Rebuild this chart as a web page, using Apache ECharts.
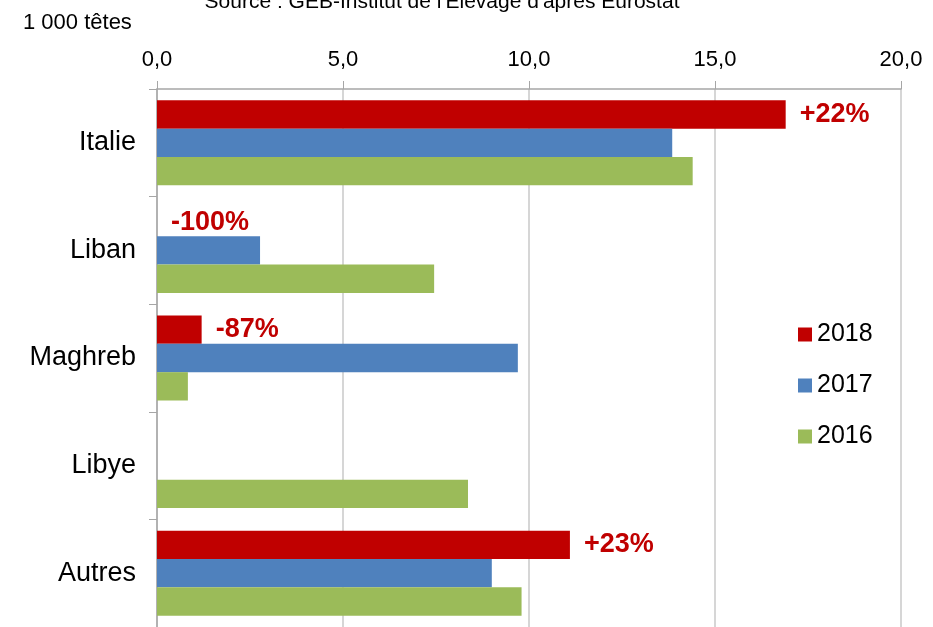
<!DOCTYPE html>
<html><head><meta charset="utf-8">
<script src="https://cdn.jsdelivr.net/npm/echarts@6/dist/echarts.min.js"></script>
<style>html,body{margin:0;padding:0;background:#fff}#c{width:933px;height:627px}</style>
</head><body><div id="c"></div>
<script>
const categories = ['Italie', 'Liban', 'Maghreb', 'Libye', 'Autres'];
const seriesNames = ['2018', '2017', '2016'];
const values2018 = [16.9, 0, 1.2, null, 11.1];
const values2017 = [13.85, 2.77, 9.7, null, 9.0];
const values2016 = [14.4, 7.45, 0.83, 8.36, 9.8];
const changeLabels = ['+22%', '-100%', '-87%', '', '+23%'];
const xTicks = { min: 0, max: 20, interval: 5 };
const colors = ['#C00000', '#4F81BD', '#9BBB59'];
const FONT = 'Liberation Sans, Arial, sans-serif';

const chart = echarts.init(document.getElementById('c'), null, { renderer: 'canvas' });
const seriesData = [values2018, values2017, values2016];
chart.setOption({
  animation: false,
  textStyle: { fontFamily: FONT },
  title: [
    { text: "Source : GEB-Institut de l'Elevage d'après Eurostat", left: 437, textAlign: 'center', top: -13,
      textStyle: { fontFamily: FONT, fontSize: 21, fontWeight: 'normal', color: '#000' } },
    { text: '1 000 têtes', left: 18, top: 7,
      textStyle: { fontFamily: FONT, fontSize: 22, fontWeight: 'normal', color: '#000' } }
  ],
  legend: {
    orient: 'vertical', left: 793, top: 316, icon: 'rect',
    itemWidth: 14, itemHeight: 14, itemGap: 24,
    data: seriesNames,
    textStyle: { fontFamily: FONT, fontSize: 25, color: '#000', lineHeight: 27 }
  },
  grid: { left: 157, top: 89, width: 744, height: 540, containLabel: false },
  xAxis: {
    type: 'value', position: 'top', min: xTicks.min, max: xTicks.max, interval: xTicks.interval,
    axisLine: { show: true, lineStyle: { color: '#A6A6A6', width: 1.5 } },
    axisTick: { show: true, length: 8, lineStyle: { color: '#A6A6A6' } },
    splitLine: { show: true, lineStyle: { color: '#C8C8C8', width: 1.5 } },
    axisLabel: { fontFamily: FONT, fontSize: 22, color: '#000', margin: 18,
      formatter: v => v.toFixed(1).replace('.', ',') }
  },
  yAxis: {
    type: 'category', inverse: true, data: categories,
    axisLine: { show: true, lineStyle: { color: '#A6A6A6', width: 1.5 } },
    axisTick: { show: true, length: 8, lineStyle: { color: '#A6A6A6' } },
    axisLabel: { fontFamily: FONT, fontSize: 27, color: '#000', margin: 21 }
  },
  series: seriesNames.map((name, i) => ({
    name, type: 'bar', data: seriesData[i],
    barGap: '0%', barCategoryGap: '21%',
    itemStyle: { color: colors[i] },
    label: i === 0 ? {
      show: true, position: 'right', distance: 14,
      fontFamily: FONT, fontSize: 27, fontWeight: 'bold', color: '#C00000',
      formatter: p => changeLabels[p.dataIndex]
    } : { show: false }
  }))
});
</script></body></html>
